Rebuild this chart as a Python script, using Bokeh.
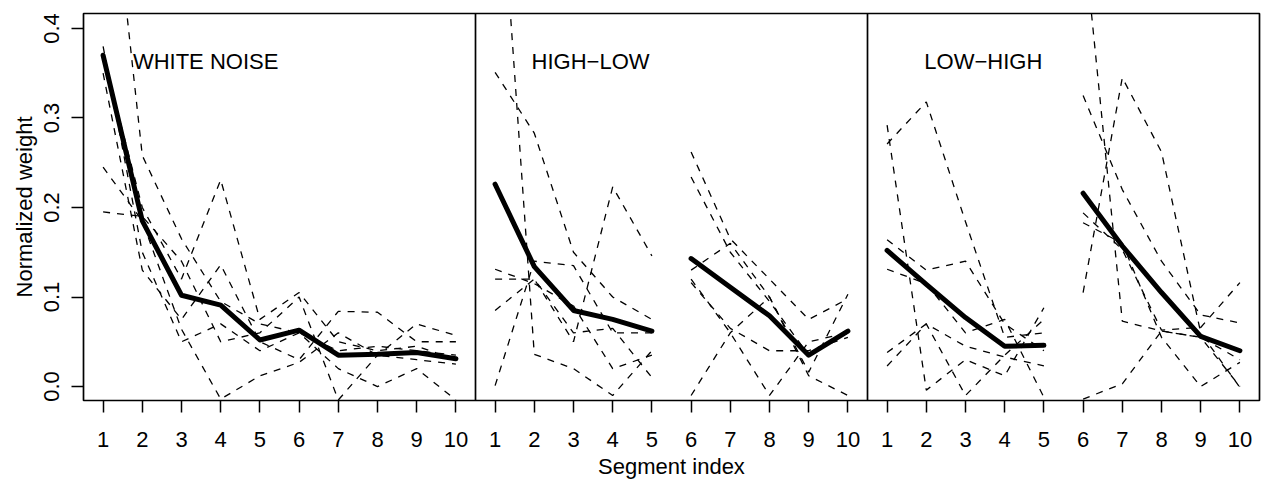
from bokeh.plotting import figure
from bokeh.models import Range1d, FixedTicker, PrintfTickFormatter, Span
from bokeh.core.properties import value
from bokeh.embed import file_html
from bokeh.resources import INLINE

# ---------------- data ----------------
segment = [1, 2, 3, 4, 5, 6, 7, 8, 9, 10]
x_tick_labels = ["1", "2", "3", "4", "5", "6", "7", "8", "9", "10"]
y_ticks = [0.0, 0.1, 0.2, 0.3, 0.4]
panel_titles = ["WHITE NOISE", "HIGH\u2212LOW", "LOW\u2212HIGH"]

# WHITE NOISE: individual runs (dashed) and mean (thick)
wn_runs = [
    [0.66, 0.258, 0.165, 0.095, 0.070, 0.060, 0.040, 0.045, 0.040, 0.035],
    [0.37, 0.200, 0.120, 0.231, 0.075, 0.105, 0.050, 0.040, 0.045, 0.030],
    [0.35, 0.130, 0.075, 0.136, 0.050, 0.030, 0.084, 0.083, 0.050, 0.050],
    [0.245, 0.185, 0.064, -0.014, 0.012, 0.027, 0.060, 0.035, 0.030, 0.025],
    [0.195, 0.190, 0.140, 0.050, 0.060, 0.100, -0.015, 0.035, 0.070, 0.057],
    [0.38, 0.150, 0.050, 0.070, 0.040, 0.060, 0.020, 0.000, 0.020, -0.015],
]
wn_mean = [0.370, 0.185, 0.102, 0.091, 0.052, 0.063, 0.035, 0.036, 0.038, 0.031]

# HIGH-LOW
hl_runs = [
    [0.66, 0.036, 0.020, -0.010, 0.040, 0.262, 0.165, 0.120, 0.075, 0.098],
    [0.351, 0.283, 0.150, 0.100, 0.075, 0.234, 0.150, 0.095, 0.035, 0.060],
    [0.120, 0.120, 0.050, 0.223, 0.146, 0.116, 0.065, 0.040, 0.040, 0.055],
    [0.001, 0.140, 0.135, 0.060, 0.060, -0.010, 0.060, 0.100, 0.016, 0.103],
    [0.131, 0.115, 0.090, 0.020, 0.035, 0.130, 0.160, 0.100, 0.012, -0.010],
    [0.085, 0.120, 0.060, 0.065, 0.010, 0.120, 0.060, -0.010, 0.050, 0.060],
]
hl_mean = [0.226, 0.134, 0.085, 0.075, 0.062, 0.143, 0.111, 0.079, 0.035, 0.062]

# LOW-HIGH
lh_runs = [
    [0.292, -0.004, 0.030, 0.012, 0.088, 0.510, 0.073, 0.062, 0.055, 0.030],
    [0.271, 0.318, 0.184, 0.055, 0.060, 0.325, 0.220, 0.140, 0.080, 0.071],
    [0.164, 0.130, 0.140, 0.070, 0.040, 0.105, 0.345, 0.262, 0.060, -0.001],
    [0.131, 0.115, 0.060, 0.075, -0.012, 0.194, 0.153, 0.063, 0.066, 0.116],
    [0.038, 0.070, 0.045, 0.033, 0.023, 0.183, 0.160, 0.055, 0.000, 0.027],
    [0.023, 0.070, -0.010, 0.035, 0.075, -0.014, 0.003, 0.062, 0.055, 0.000],
]
lh_mean = [0.152, 0.114, 0.077, 0.045, 0.046, 0.216, 0.157, 0.105, 0.056, 0.040]

# ---------------- figure ----------------
FONT = "Liberation Sans"
p = figure(width=1261, height=481, output_backend="svg", toolbar_location=None,
           x_range=Range1d(0.5, 30.5), y_range=Range1d(-0.0156, 0.4167),
           min_border_left=83, min_border_right=2, min_border_top=13,
           min_border_bottom=79)
p.grid.visible = False
p.outline_line_color = "black"
p.outline_line_width = 1.7
p.background_fill_color = "white"
p.border_fill_color = "white"

# x axis: 1..10 repeated in every panel
p.xaxis.ticker = FixedTicker(ticks=[k * 10 + s for k in range(3) for s in segment])
p.xaxis.major_label_overrides = {k * 10 + s: x_tick_labels[i]
                                 for k in range(3) for i, s in enumerate(segment)}
p.yaxis.ticker = FixedTicker(ticks=y_ticks)
p.yaxis.formatter = PrintfTickFormatter(format="%.1f")
p.yaxis.major_label_orientation = "vertical"

for ax in (p.xaxis[0], p.yaxis[0]):
    ax.axis_line_color = None
    ax.major_tick_in = 0
    ax.major_tick_out = 12
    ax.major_tick_line_width = 1.5
    ax.major_tick_line_color = "black"
    ax.minor_tick_line_color = None
    ax.major_label_text_font = FONT
    ax.major_label_text_font_size = "22px"
    ax.major_label_text_color = "black"
    ax.axis_label_text_font = FONT
    ax.axis_label_text_font_size = "22px"
    ax.axis_label_text_font_style = "normal"
    ax.axis_label_text_color = "black"

p.xaxis.axis_label = "Segment index"
p.yaxis.axis_label = "Normalized weight"
p.xaxis.major_label_standoff = 19
p.xaxis.axis_label_standoff = 4
p.yaxis.major_label_standoff = 12
p.yaxis.axis_label_standoff = 5

# panel separators
for b in (10.5, 20.5):
    p.add_layout(Span(location=b, dimension="height", line_color="black", line_width=1.7))

panels = [(wn_runs, wn_mean, False), (hl_runs, hl_mean, True), (lh_runs, lh_mean, True)]
for k, (runs, mean, split) in enumerate(panels):
    xs = [s + 10 * k for s in segment]
    parts = [(0, 5), (5, 10)] if split else [(0, 10)]
    for a, b in parts:
        for r in runs:
            p.line(xs[a:b], r[a:b], line_color="black", line_width=1.3, line_dash="7 7")
        p.line(xs[a:b], mean[a:b], line_color="black", line_width=5, line_join="round",
               line_cap="round")

title_x = [1.76, 11.93, 21.95]
p.text(x=title_x, y=[0.3626] * 3, text=panel_titles, text_font=value(FONT),
       text_font_size="22px", text_color="black", text_align="left",
       text_baseline="alphabetic")

open("out.html", "w").write(file_html(p, INLINE))
